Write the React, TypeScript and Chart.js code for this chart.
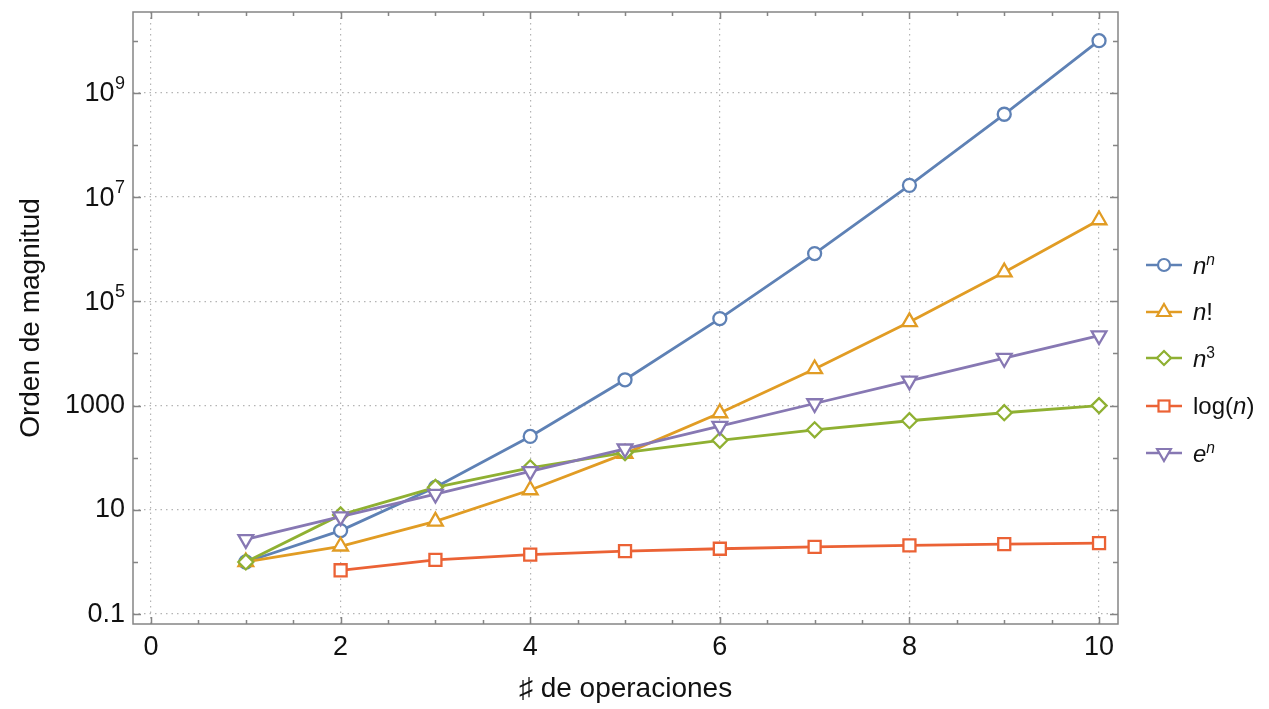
import React, { useEffect, useRef } from "react";
import { Chart, registerables } from "chart.js";

Chart.register(...registerables);

const nValues = [1, 2, 3, 4, 5, 6, 7, 8, 9, 10];
const nPowN = [1, 4, 27, 256, 3125, 46656, 823543, 16777216, 387420489, 10000000000];
const nFactorial = [1, 2, 6, 24, 120, 720, 5040, 40320, 362880, 3628800];
const nCubed = [1, 8, 27, 64, 125, 216, 343, 512, 729, 1000];
const logN = [null, 0.693, 1.099, 1.386, 1.609, 1.792, 1.946, 2.079, 2.197, 2.303];
const expN = [2.718, 7.389, 20.09, 54.6, 148.4, 403.4, 1096.6, 2981, 8103, 22026];

const xTickValues = [0, 2, 4, 6, 8, 10];
const yTickExponents = [-1, 1, 3, 5, 7, 9];
const yTickLabels = ["0.1", "10", "1000", "", "", ""];
const yPowerBases = ["", "", "", "10", "10", "10"];
const yPowerExponents = ["", "", "", "5", "7", "9"];

const FONT = '"Liberation Sans", Arial, sans-serif';

const seriesMeta = [
  { key: "nn", color: "#5E81B5", style: "circle", radius: 6.5, rotation: 0, values: nPowN },
  { key: "nf", color: "#E19C24", style: "triangle", radius: 8.5, rotation: 0, values: nFactorial },
  { key: "n3", color: "#8FB032", style: "rectRot", radius: 7.5, rotation: 0, values: nCubed },
  { key: "log", color: "#EB6235", style: "rect", radius: 8.5, rotation: 0, values: logN },
  { key: "en", color: "#8778B3", style: "triangle", radius: 8.5, rotation: 180, values: expN },
];

const framePlugin = {
  id: "frameTicks",
  afterDatasetsDraw(chart: any) {
    const { ctx, chartArea, scales } = chart;
    const { left, right, top, bottom } = chartArea;
    const x = scales.x;
    const y = scales.y;
    ctx.save();
    ctx.strokeStyle = "#858585";
    ctx.lineWidth = 1.5;
    ctx.strokeRect(left, top, right - left, bottom - top);
    ctx.beginPath();
    for (let v = 0; v <= 10; v += 0.5) {
      const px = Math.round(x.getPixelForValue(v)) + 0.5;
      const len = v % 2 === 0 ? 7 : 4;
      ctx.moveTo(px, bottom);
      ctx.lineTo(px, bottom - len);
      ctx.moveTo(px, top);
      ctx.lineTo(px, top + len);
    }
    for (let k = -1; k <= 10; k++) {
      const py = Math.round(y.getPixelForValue(Math.pow(10, k))) + 0.5;
      const len = k % 2 !== 0 ? 8 : 5;
      ctx.moveTo(left, py);
      ctx.lineTo(left + len, py);
      ctx.moveTo(right, py);
      ctx.lineTo(right - len, py);
    }
    ctx.stroke();

    // power-of-ten tick labels with raised exponents
    const labelRight = left - 8;
    ctx.fillStyle = "#111111";
    yTickExponents.forEach((k, i) => {
      if (!yPowerBases[i]) return;
      const py = y.getPixelForValue(Math.pow(10, k));
      ctx.font = `18px ${FONT}`;
      const expW = ctx.measureText(yPowerExponents[i]).width;
      ctx.textAlign = "left";
      ctx.textBaseline = "alphabetic";
      ctx.fillText(yPowerExponents[i], labelRight - expW, py - 4);
      ctx.font = `27px ${FONT}`;
      ctx.textAlign = "right";
      ctx.textBaseline = "middle";
      ctx.fillText(yPowerBases[i], labelRight - expW - 0.5, py + 1);
    });
    ctx.restore();
  },
};

function Marker({ meta }: { meta: any }) {
  const c = meta.color;
  const cx = 18;
  const cy = 10;
  let shape: any = null;
  if (meta.key === "nn") shape = <circle cx={cx} cy={cy} r={6} fill="white" stroke={c} strokeWidth={2.2} />;
  if (meta.key === "nf") shape = <polygon points={`${cx},${cy - 8} ${cx + 6.9},${cy + 4} ${cx - 6.9},${cy + 4}`} fill="white" stroke={c} strokeWidth={2.2} />;
  if (meta.key === "n3") shape = <polygon points={`${cx},${cy - 7} ${cx + 7},${cy} ${cx},${cy + 7} ${cx - 7},${cy}`} fill="white" stroke={c} strokeWidth={2.2} />;
  if (meta.key === "log") shape = <rect x={cx - 5.5} y={cy - 5.5} width={11} height={11} fill="white" stroke={c} strokeWidth={2.2} />;
  if (meta.key === "en") shape = <polygon points={`${cx},${cy + 8} ${cx + 6.9},${cy - 4} ${cx - 6.9},${cy - 4}`} fill="white" stroke={c} strokeWidth={2.2} />;
  return (
    <svg width={36} height={20} style={{ display: "block" }}>
      <line x1={0} y1={cy} x2={36} y2={cy} stroke={c} strokeWidth={2.6} />
      {shape}
    </svg>
  );
}

const supStyle = { fontSize: "0.65em", verticalAlign: "0.6em" } as any;
const legendLabels = [
  <span><i>n</i><span style={supStyle}><i>n</i></span></span>,
  <span><i>n</i>!</span>,
  <span><i>n</i><span style={supStyle}>3</span></span>,
  <span>log(<i>n</i>)</span>,
  <span><i>e</i><span style={supStyle}><i>n</i></span></span>,
];

export default function App() {
  const canvasRef = useRef<HTMLCanvasElement | null>(null);

  useEffect(() => {
    const canvas = canvasRef.current;
    if (!canvas) return;
    const datasets = seriesMeta.map((m, i) => ({
      label: m.key,
      data: nValues
        .map((n, j) => ({ x: n, y: m.values[j] as any }))
        .filter((p) => p.y !== null),
      borderColor: m.color,
      backgroundColor: "#ffffff",
      borderWidth: 2.8,
      pointStyle: m.style as any,
      pointRadius: m.radius,
      pointRotation: m.rotation,
      pointBorderWidth: 2.3,
      pointBackgroundColor: "#ffffff",
      pointBorderColor: m.color,
      tension: 0,
      order: -i,
    }));

    const chart = new Chart(canvas, {
      type: "line",
      data: { datasets },
      plugins: [framePlugin],
      options: {
        animation: false,
        responsive: false,
        layout: { padding: { top: 12, right: 151, left: 0, bottom: 0 } },
        plugins: { legend: { display: false }, tooltip: { enabled: false } },
        scales: {
          x: {
            type: "linear",
            min: -0.19,
            max: 10.2,
            afterBuildTicks: (scale: any) => {
              scale.ticks = xTickValues.map((v) => ({ value: v }));
            },
            afterFit: (scale: any) => {
              scale.height = 85;
              scale.paddingLeft = 0;
              scale.paddingRight = 0;
              scale.paddingTop = 0;
              scale.paddingBottom = 0;
            },
            ticks: {
              autoSkip: false,
              maxRotation: 0,
              padding: 7,
              color: "#111111",
              font: { family: FONT, size: 27 },
              callback: (v: any) => String(v),
            },
            grid: {
              drawTicks: false,
              color: "#b4b4b4",
              lineWidth: 1.2,
            },
            border: { display: false, dash: [1.5, 4] },
            title: {
              display: true,
              text: "♯ de operaciones",
              color: "#111111",
              font: { family: FONT, size: 28 },
              padding: { top: 0, bottom: 3 },
            },
          },
          y: {
            type: "logarithmic",
            min: Math.pow(10, -1.19),
            max: Math.pow(10, 10.55),
            afterBuildTicks: (scale: any) => {
              scale.ticks = yTickExponents.map((k) => ({ value: Math.pow(10, k) }));
            },
            afterFit: (scale: any) => {
              scale.width = 133;
              scale.paddingLeft = 0;
              scale.paddingRight = 0;
              scale.paddingTop = 0;
              scale.paddingBottom = 0;
            },
            ticks: {
              autoSkip: false,
              padding: 8,
              color: "#111111",
              font: { family: FONT, size: 27 },
              callback: (v: any) => {
                const k = Math.round(Math.log10(Number(v)));
                const idx = yTickExponents.indexOf(k);
                return idx >= 0 ? yTickLabels[idx] : "";
              },
            },
            grid: {
              drawTicks: false,
              color: "#b4b4b4",
              lineWidth: 1.2,
            },
            border: { display: false, dash: [1.5, 4] },
            title: {
              display: true,
              text: "Orden de magnitud",
              color: "#111111",
              font: { family: FONT, size: 28 },
              padding: { top: 14, bottom: 0 },
            },
          },
        },
      } as any,
    });
    return () => chart.destroy();
  }, []);

  const rowTops = [265, 312, 358, 406, 453];

  return (
    <div style={{ position: "fixed", left: 0, top: 0, width: 1269, height: 709, background: "#ffffff" }}>
      <canvas ref={canvasRef} width={1269} height={709} style={{ position: "absolute", left: 0, top: 0 }} />
      {seriesMeta.map((m, i) => (
        <div
          key={m.key}
          style={{
            position: "absolute",
            left: 1146,
            top: rowTops[i] - 16,
            height: 32,
            display: "flex",
            alignItems: "center",
            fontFamily: FONT,
            fontSize: 24,
            color: "#111111",
            whiteSpace: "nowrap",
            lineHeight: 1,
          }}
        >
          <Marker meta={m} />
          <span style={{ marginLeft: 11 }}>{legendLabels[i]}</span>
        </div>
      ))}
    </div>
  );
}
